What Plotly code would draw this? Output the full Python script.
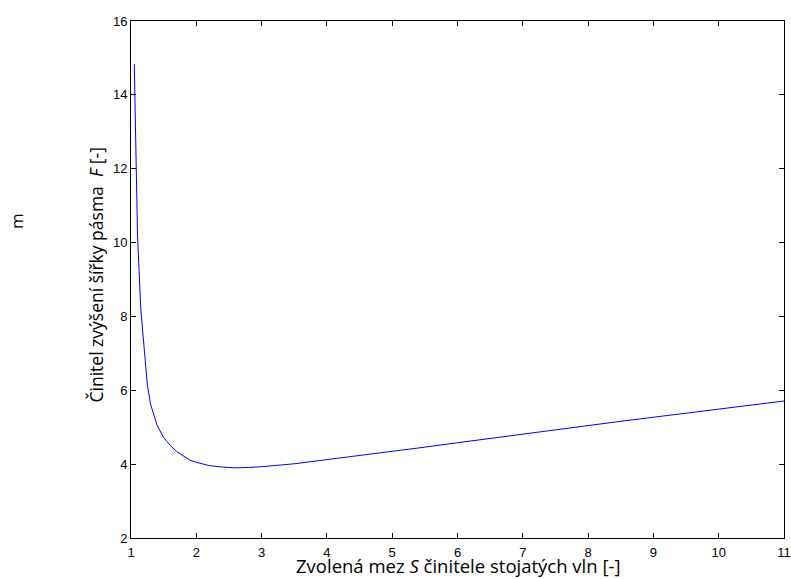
import plotly.graph_objects as go

S_values = [1.05, 1.1, 1.15, 1.2, 1.25, 1.3, 1.4, 1.5, 1.6, 1.7, 1.8, 1.9, 2.0,
            2.2, 2.4, 2.6, 2.8, 3.0, 3.5, 4.0, 4.5, 5.0, 5.5, 6.0, 6.5, 7.0,
            7.5, 8.0, 8.5, 9.0, 9.5, 10.0, 10.5, 11.0]
F_values = [14.83, 10.2, 8.2, 7.1, 6.15, 5.62, 5.05, 4.72, 4.51, 4.34, 4.22, 4.11, 4.05,
            3.96, 3.92, 3.90, 3.91, 3.93, 4.01, 4.12, 4.22, 4.34, 4.46, 4.58, 4.70, 4.82,
            4.93, 5.05, 5.16, 5.27, 5.38, 5.49, 5.60, 5.71]
x_ticks = [1, 2, 3, 4, 5, 6, 7, 8, 9, 10, 11]
y_ticks = [2, 4, 6, 8, 10, 12, 14, 16]

x_title = "Zvolená mez <i>S</i> činitele stojatých vln [-]"
y_title = "Činitel zvýšení šířky pásma  <i>F</i> [-]"
stray_label = "m"

fig = go.Figure()
fig.add_trace(go.Scatter(x=S_values, y=F_values, mode="lines",
                         line=dict(color="#0000ff", width=1), showlegend=False))

axis_common = dict(showgrid=False, zeroline=False, showline=True, linecolor="black",
                   linewidth=1, mirror="ticks", ticks="inside", ticklen=5,
                   tickcolor="black", automargin=False,
                   tickfont=dict(family="Liberation Sans, Arial", size=13, color="black"))

fig.update_xaxes(range=[1, 11], tickvals=x_ticks, ticktext=[str(v) for v in x_ticks],
                 ticklabelstandoff=2, **axis_common)
fig.update_yaxes(range=[2, 16], tickvals=y_ticks, ticktext=[str(v) for v in y_ticks],
                 **axis_common)

fig.add_annotation(text=x_title, xref="paper", yref="paper", x=0.5, y=0,
                   yshift=-41, yanchor="bottom", showarrow=False, borderpad=0,
                   font=dict(family="Open Sans", size=18.5, color="black"))
fig.add_annotation(text=y_title, xref="paper", yref="paper", x=0, y=0.5,
                   xshift=-36, xanchor="center", yshift=4, textangle=-90, showarrow=False,
                   font=dict(family="Open Sans", size=17.5, color="black"))
fig.add_annotation(text=stray_label, xref="paper", yref="paper", x=0, y=0.5,
                   xshift=-114.5, xanchor="center", yshift=58, yanchor="middle",
                   textangle=-90, showarrow=False,
                   font=dict(family="Open Sans", size=17, color="black"))

fig.update_layout(width=791, height=579, margin=dict(l=131, r=7, t=21, b=41),
                  paper_bgcolor="white", plot_bgcolor="white")

fig.write_html("out.html")
